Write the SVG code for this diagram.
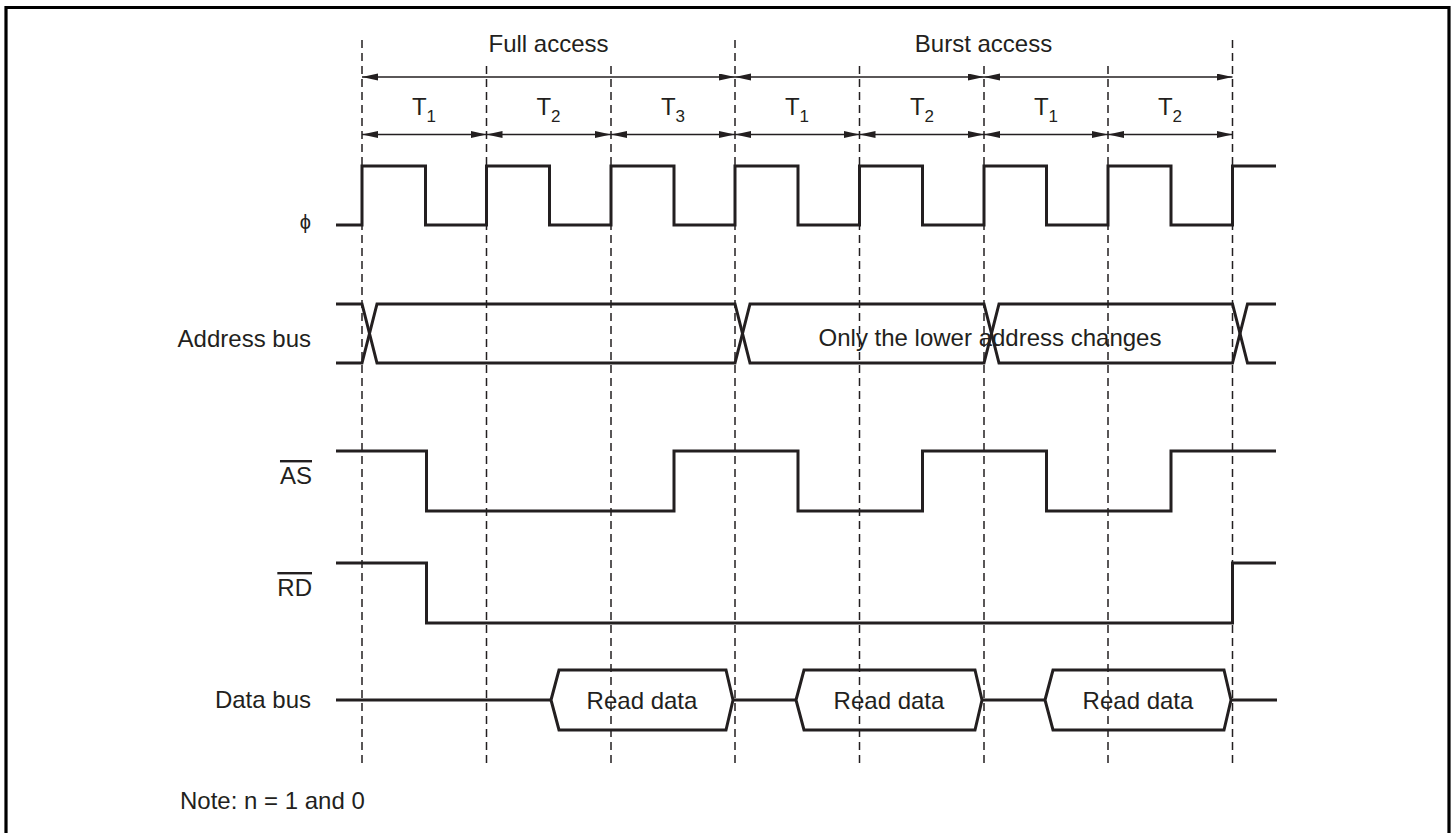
<svg xmlns="http://www.w3.org/2000/svg" width="1455" height="833" viewBox="0 0 1455 833">
<style>
text{font-family:"Liberation Sans",Arial,sans-serif;font-size:24px;fill:#231f20}
.lbl{text-anchor:end}
.mid{text-anchor:middle}
.sub{font-size:17px}
.sig{fill:none;stroke:#231f20;stroke-width:3;stroke-linejoin:miter;stroke-linecap:butt}
.grid{fill:none;stroke:#231f20;stroke-width:1.5;stroke-dasharray:8 5}
.arr{fill:none;stroke:#231f20;stroke-width:1.4;marker-start:url(#ah);marker-end:url(#ah)}
.ov{text-decoration:overline}
</style>
<defs>
<marker id="ah" markerUnits="userSpaceOnUse" markerWidth="17" markerHeight="8" refX="16" refY="3.5" orient="auto-start-reverse">
<path d="M0,0 L16,3.5 L0,7 Z" fill="#231f20"/>
</marker>
</defs>
<rect x="0" y="0" width="1455" height="833" fill="#fff"/>
<path d="M6,840 V7.5 H1449 V840" fill="none" stroke="#000" stroke-width="3.2"/>

<g id="grid">
<line class="grid" x1="362" y1="40" x2="362" y2="765"/>
<line class="grid" x1="486.5" y1="66" x2="486.5" y2="765"/>
<line class="grid" x1="611" y1="66" x2="611" y2="765"/>
<line class="grid" x1="735" y1="40" x2="735" y2="765"/>
<line class="grid" x1="859.5" y1="66" x2="859.5" y2="765"/>
<line class="grid" x1="984" y1="66" x2="984" y2="765"/>
<line class="grid" x1="1108" y1="66" x2="1108" y2="765"/>
<line class="grid" x1="1232.5" y1="40" x2="1232.5" y2="765"/>
</g>

<g id="connectors">
<line class="arr" x1="362" y1="77" x2="735" y2="77"/>
<line class="arr" x1="735" y1="77" x2="984" y2="77"/>
<line class="arr" x1="984" y1="77" x2="1232.5" y2="77"/>
<line class="arr" x1="362" y1="134.5" x2="486.5" y2="134.5"/>
<line class="arr" x1="486.5" y1="134.5" x2="611" y2="134.5"/>
<line class="arr" x1="611" y1="134.5" x2="735" y2="134.5"/>
<line class="arr" x1="735" y1="134.5" x2="859.5" y2="134.5"/>
<line class="arr" x1="859.5" y1="134.5" x2="984" y2="134.5"/>
<line class="arr" x1="984" y1="134.5" x2="1108" y2="134.5"/>
<line class="arr" x1="1108" y1="134.5" x2="1232.5" y2="134.5"/>
</g>

<g id="headers">
<text class="mid" x="548.5" y="52">Full access</text>
<text class="mid" x="983.5" y="52">Burst access</text>
<text class="mid" x="424" y="115">T<tspan class="sub" dy="7">1</tspan></text>
<text class="mid" x="548.5" y="115">T<tspan class="sub" dy="7">2</tspan></text>
<text class="mid" x="673" y="115">T<tspan class="sub" dy="7">3</tspan></text>
<text class="mid" x="797" y="115">T<tspan class="sub" dy="7">1</tspan></text>
<text class="mid" x="922" y="115">T<tspan class="sub" dy="7">2</tspan></text>
<text class="mid" x="1046" y="115">T<tspan class="sub" dy="7">1</tspan></text>
<text class="mid" x="1170" y="115">T<tspan class="sub" dy="7">2</tspan></text>
</g>

<g id="phi">
<text class="lbl" x="311" y="229" style="font-size:20px">ϕ</text>
<path class="sig" d="M336,225 H362 V166 H425.5 V225 H486.5 V166 H549.5 V225 H611 V166 H674 V225 H735 V166 H798 V225 H859.5 V166 H922.5 V225 H984 V166 H1046.5 V225 H1108 V166 H1171 V225 H1232.5 V166 H1276"/>
</g>

<g id="address-bus">
<text class="lbl" x="311" y="347">Address bus</text>
<path class="sig" d="M336,304 H362 L377,363 H735 L750,304 H984 L999,363 H1232.5 L1247.5,304 H1276"/>
<path class="sig" d="M336,363 H362 L377,304 H735 L750,363 H984 L999,304 H1232.5 L1247.5,363 H1276"/>
<text class="mid" x="990" y="346">Only the lower address changes</text>
</g>

<g id="as">
<text class="lbl ov" x="312" y="484">AS</text>
<path class="sig" d="M336,451 H426.5 V511 H674 V451 H798 V511 H922.5 V451 H1046.5 V511 H1171 V451 H1276"/>
</g>

<g id="rd">
<text class="lbl ov" x="312" y="596">RD</text>
<path class="sig" d="M336,563 H426.5 V623 H1232.5 V563 H1276"/>
</g>

<g id="data-bus">
<text class="lbl" x="311" y="708">Data bus</text>
<path class="sig" d="M336,700 H551 M733,700 H796 M982,700 H1045 M1231,700 H1277"/>
<path class="sig" d="M551,700 L559,670 H726 L733,700 L726,730 H559 Z"/>
<path class="sig" d="M796,700 L804,670 H975 L982,700 L975,730 H804 Z"/>
<path class="sig" d="M1045,700 L1053,670 H1224 L1231,700 L1224,730 H1053 Z"/>
<text class="mid" x="642" y="709">Read data</text>
<text class="mid" x="889" y="709">Read data</text>
<text class="mid" x="1138" y="709">Read data</text>
</g>

<g id="note">
<text x="180" y="809">Note: n = 1 and 0</text>
</g>
</svg>
